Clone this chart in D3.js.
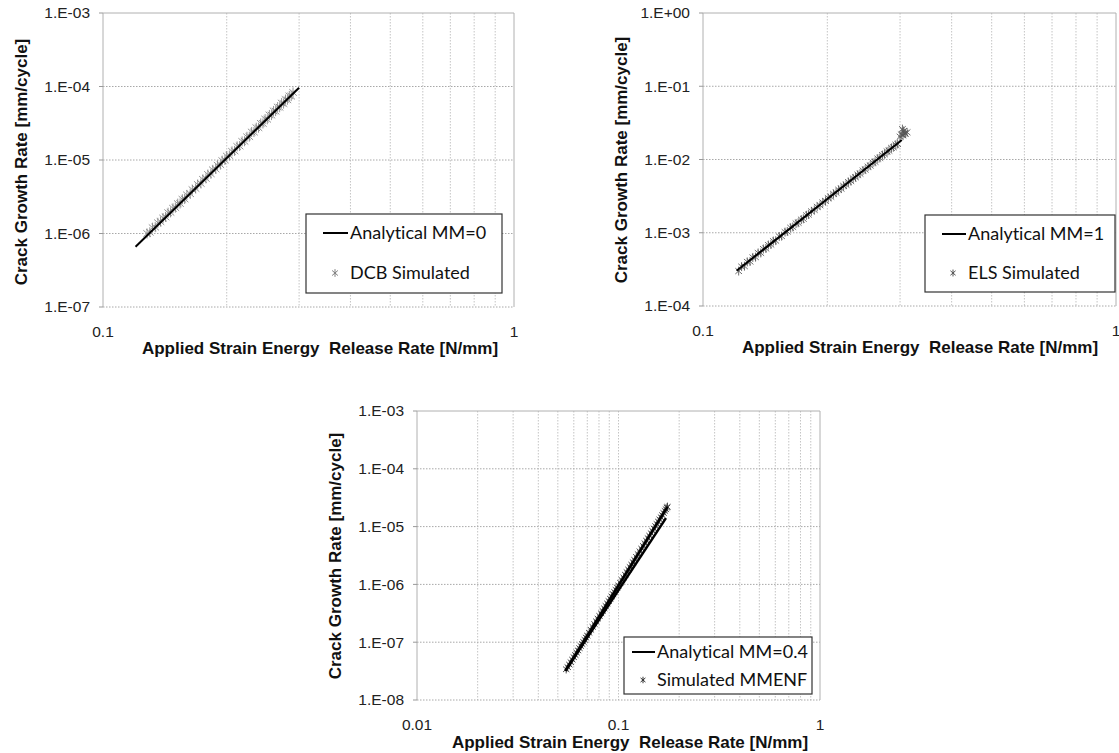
<!DOCTYPE html>
<html>
<head>
<meta charset="utf-8">
<script src="https://cdn.jsdelivr.net/npm/d3@7"></script>
<style>
  body { margin: 0; background: #fff; }
  svg text { font-family: "Liberation Sans", Arial, sans-serif; }
  .legend text { font-family: Lato, "Open Sans", sans-serif; font-variant-ligatures: none; }
</style>
</head>
<body>
<div id="chart"></div>
<script>
// ---- data: DCB (MM=0) ----
const dcbLineG    = [0.12, 0.30];
const dcbLineRate = [6.6e-7, 9.6e-5];
const dcbSimG = [0.128, 0.130, 0.132, 0.134, 0.136, 0.138, 0.140, 0.142, 0.144, 0.146, 0.148, 0.150,
  0.152, 0.154, 0.156, 0.158, 0.160, 0.163, 0.165, 0.168, 0.170, 0.173, 0.175, 0.178, 0.180, 0.183,
  0.185, 0.188, 0.190, 0.193, 0.195, 0.198, 0.200, 0.203, 0.206, 0.209, 0.212, 0.215, 0.218, 0.221,
  0.224, 0.227, 0.230, 0.233, 0.236, 0.239, 0.242, 0.245, 0.248, 0.251, 0.254, 0.257, 0.260, 0.263,
  0.266, 0.269, 0.272, 0.275, 0.278, 0.281, 0.284, 0.287, 0.290];
const dcbSimRate = [1.00e-6, 1.04e-6, 1.20e-6, 1.22e-6, 1.40e-6, 1.45e-6, 1.62e-6, 1.68e-6, 1.92e-6, 1.94e-6, 2.20e-6, 2.25e-6,
  2.55e-6, 2.56e-6, 2.92e-6, 2.95e-6, 3.35e-6, 3.48e-6, 3.95e-6, 4.10e-6, 4.65e-6, 4.80e-6, 5.45e-6, 5.62e-6, 6.35e-6, 6.50e-6,
  7.35e-6, 7.55e-6, 8.50e-6, 8.65e-6, 9.80e-6, 1.00e-5, 1.13e-5, 1.15e-5, 1.31e-5, 1.33e-5, 1.53e-5, 1.55e-5, 1.79e-5, 1.80e-5,
  2.07e-5, 2.08e-5, 2.40e-5, 2.40e-5, 2.75e-5, 2.75e-5, 3.15e-5, 3.14e-5, 3.60e-5, 3.58e-5, 4.10e-5, 4.08e-5, 4.65e-5, 4.62e-5,
  5.25e-5, 5.22e-5, 5.95e-5, 5.85e-5, 6.65e-5, 6.60e-5, 7.45e-5, 7.40e-5, 8.30e-5];

// ---- data: ELS (MM=1) ----
const elsLineG    = [0.1206, 0.303];
const elsLineRate = [3.03e-4, 1.85e-2];
const elsSimG = [0.122, 0.124, 0.126, 0.128, 0.130, 0.132, 0.134, 0.136, 0.138, 0.140, 0.142, 0.144,
  0.146, 0.148, 0.150, 0.153, 0.155, 0.158, 0.160, 0.163, 0.165, 0.168, 0.170, 0.173, 0.175, 0.178,
  0.180, 0.183, 0.186, 0.189, 0.192, 0.195, 0.198, 0.201, 0.204, 0.207, 0.210, 0.213, 0.216, 0.219,
  0.222, 0.225, 0.228, 0.231, 0.234, 0.237, 0.240, 0.244, 0.247, 0.251, 0.254, 0.258, 0.261, 0.265,
  0.268, 0.272, 0.275, 0.279, 0.282, 0.286, 0.289, 0.293, 0.296,
  0.300, 0.302, 0.304, 0.305, 0.306, 0.308, 0.309, 0.312];
const elsSimRate = [3.0e-4, 3.45e-4, 3.5e-4, 4.0e-4, 4.05e-4, 4.6e-4, 4.65e-4, 5.3e-4, 5.3e-4, 6.0e-4, 6.1e-4, 6.8e-4,
  6.9e-4, 7.7e-4, 7.8e-4, 8.9e-4, 9.0e-4, 1.02e-3, 1.04e-3, 1.17e-3, 1.20e-3, 1.34e-3, 1.37e-3, 1.51e-3, 1.55e-3, 1.73e-3,
  1.77e-3, 1.96e-3, 2.05e-3, 2.26e-3, 2.37e-3, 2.59e-3, 2.72e-3, 2.97e-3, 3.10e-3, 3.39e-3, 3.53e-3, 3.86e-3, 4.00e-3, 4.36e-3,
  4.52e-3, 4.92e-3, 5.08e-3, 5.52e-3, 5.72e-3, 6.20e-3, 6.40e-3, 7.06e-3, 7.28e-3, 7.98e-3, 8.25e-3, 9.04e-3, 9.30e-3, 1.03e-2,
  1.05e-2, 1.15e-2, 1.18e-2, 1.29e-2, 1.32e-2, 1.44e-2, 1.47e-2, 1.59e-2, 1.63e-2,
  2.05e-2, 2.20e-2, 2.60e-2, 2.15e-2, 2.45e-2, 2.30e-2, 2.25e-2, 2.35e-2];

// ---- data: MMENF (MM=0.4) ----
const mmfLineAG    = [0.0545, 0.175];
const mmfLineARate = [3.2e-8, 2.2e-5];
const mmfLineBG    = [0.0545, 0.172];
const mmfLineBRate = [3.2e-8, 1.4e-5];
const mmfSimG = [0.055, 0.056, 0.057, 0.058, 0.059, 0.060, 0.061, 0.062, 0.063, 0.064, 0.065, 0.066,
  0.067, 0.068, 0.069, 0.070, 0.0715, 0.073, 0.0745, 0.076, 0.0775, 0.079, 0.0805, 0.082, 0.0835, 0.085,
  0.0865, 0.088, 0.0895, 0.091, 0.0925, 0.094, 0.0955, 0.097, 0.0985, 0.100, 0.102, 0.104, 0.106, 0.108,
  0.110, 0.112, 0.114, 0.116, 0.118, 0.120, 0.1225, 0.125, 0.1275, 0.130, 0.1325, 0.135, 0.1375, 0.140,
  0.1425, 0.145, 0.1475, 0.150, 0.1525, 0.155, 0.1575, 0.160, 0.1625, 0.165, 0.1675, 0.170, 0.172, 0.174, 0.175];
const mmfSimRate = [3.4e-8, 3.7e-8, 4.1e-8, 4.5e-8, 5.0e-8, 5.5e-8, 6.0e-8, 6.6e-8, 7.2e-8, 7.9e-8, 8.6e-8, 9.3e-8,
  1.01e-7, 1.10e-7, 1.20e-7, 1.30e-7, 1.46e-7, 1.64e-7, 1.84e-7, 2.06e-7, 2.30e-7, 2.56e-7, 2.85e-7, 3.15e-7, 3.49e-7, 3.85e-7,
  4.25e-7, 4.68e-7, 5.15e-7, 5.65e-7, 6.20e-7, 6.78e-7, 7.40e-7, 8.07e-7, 8.80e-7, 9.57e-7, 1.07e-6, 1.19e-6, 1.32e-6, 1.47e-6,
  1.63e-6, 1.81e-6, 2.00e-6, 2.20e-6, 2.42e-6, 2.66e-6, 2.99e-6, 3.34e-6, 3.73e-6, 4.16e-6, 4.63e-6, 5.14e-6, 5.70e-6, 6.30e-6,
  6.96e-6, 7.67e-6, 8.44e-6, 9.27e-6, 1.02e-5, 1.11e-5, 1.22e-5, 1.33e-5, 1.45e-5, 1.58e-5, 1.72e-5, 1.87e-5, 2.00e-5, 2.13e-5, 2.2e-5];

// ---- tick labels ----
const dcbYTicks = [1e-7, 1e-6, 1e-5, 1e-4, 1e-3];
const dcbYLabels = ["1.E-07", "1.E-06", "1.E-05", "1.E-04", "1.E-03"];
const elsYTicks = [1e-4, 1e-3, 1e-2, 1e-1, 1];
const elsYLabels = ["1.E-04", "1.E-03", "1.E-02", "1.E-01", "1.E+00"];
const mmfYTicks = [1e-8, 1e-7, 1e-6, 1e-5, 1e-4, 1e-3];
const mmfYLabels = ["1.E-08", "1.E-07", "1.E-06", "1.E-05", "1.E-04", "1.E-03"];
const topXTicks = [0.1, 1];
const topXLabels = ["0.1", "1"];
const mmfXTicks = [0.01, 0.1, 1];
const mmfXLabels = ["0.01", "0.1", "1"];

const xTitle = "Applied Strain Energy  Release Rate [N/mm]";
const yTitle = "Crack Growth Rate [mm/cycle]";

const W = 1119, H = 753;

const svg = d3.select("#chart").append("svg")
    .attr("width", W)
    .attr("height", H);

// asterisk-like marker: vertical bar plus an x
const starSymbol = {
    draw(ctx, size) {
        const r = Math.sqrt(size) / 2;
        const dx = r * 0.75, dy = r * 0.65;
        ctx.moveTo(0, -r); ctx.lineTo(0, r);
        ctx.moveTo(-dx, -dy); ctx.lineTo(dx, dy);
        ctx.moveTo(-dx, dy); ctx.lineTo(dx, -dy);
    }
};

const panels = [
    {
        box: {left: 103, right: 514, top: 13, bottom: 307},
        xDomain: [0.1, 1], yDomain: [1e-7, 1e-3],
        xTicks: topXTicks, xLabels: topXLabels,
        yTicks: dcbYTicks, yLabels: dcbYLabels,
        lines: [[dcbLineG, dcbLineRate]],
        simG: dcbSimG, simRate: dcbSimRate,
        markerColor: "#808080", markerSize: 100, lineWidth: 2,
        xTitlePos: [320, 354], yTitlePos: [27, 162],
        legend: {x: 306, y: 214, w: 196, h: 79, lineY: 233, simY: 273, lx0: 323, lx1: 348, mx: 335, tx: 350,
                 names: ["Analytical MM=0", "DCB Simulated"]}
    },
    {
        box: {left: 703, right: 1116, top: 13, bottom: 306},
        xDomain: [0.1, 1], yDomain: [1e-4, 1],
        xTicks: topXTicks, xLabels: topXLabels,
        yTicks: elsYTicks, yLabels: elsYLabels,
        lines: [[elsLineG, elsLineRate]],
        simG: elsSimG, simRate: elsSimRate,
        markerColor: "#555", markerSize: 80, lineWidth: 2,
        xTitlePos: [920, 353], yTitlePos: [627, 160],
        legend: {x: 925, y: 215, w: 190, h: 77, lineY: 234, simY: 273, lx0: 942, lx1: 966, mx: 953, tx: 968,
                 names: ["Analytical MM=1", "ELS Simulated"]}
    },
    {
        box: {left: 417, right: 820, top: 411, bottom: 700},
        xDomain: [0.01, 1], yDomain: [1e-8, 1e-3],
        xTicks: mmfXTicks, xLabels: mmfXLabels,
        yTicks: mmfYTicks, yLabels: mmfYLabels,
        lines: [[mmfLineAG, mmfLineARate], [mmfLineBG, mmfLineBRate]],
        simG: mmfSimG, simRate: mmfSimRate,
        markerColor: "#333", markerSize: 70, lineWidth: 2.5,
        xTitlePos: [630, 748], yTitlePos: [341, 556],
        legend: {x: 624, y: 637, w: 188, h: 57, lineY: 652, simY: 680, lx0: 632, lx1: 655, mx: 643, tx: 657,
                 names: ["Analytical MM=0.4", "Simulated MMENF"]}
    }
];

panels.forEach(p => drawPanel(p));

function drawPanel(p) {
    const b = p.box;
    const x = d3.scaleLog().domain(p.xDomain).range([b.left, b.right]);
    const y = d3.scaleLog().domain(p.yDomain).range([b.bottom, b.top]);
    const g = svg.append("g");

    // minor vertical gridlines (2..9 of each decade) and decade lines
    const decades = d3.range(Math.round(Math.log10(p.xDomain[0])), Math.round(Math.log10(p.xDomain[1])));
    const xGrid = [];
    decades.forEach(e => d3.range(2, 10).forEach(k => xGrid.push(k * Math.pow(10, e))));
    p.xTicks.slice(1, -1).forEach(t => xGrid.push(t));

    g.selectAll("line.gx")
        .data(xGrid)
        .enter()
        .append("line")
        .attr("x1", d => x(d)).attr("x2", d => x(d))
        .attr("y1", b.top).attr("y2", b.bottom)
        .attr("stroke", "#c4c4c4")
        .attr("stroke-dasharray", "1.5,1.5");

    g.selectAll("line.gy")
        .data(p.yTicks.slice(0, -1))
        .enter()
        .append("line")
        .attr("x1", b.left).attr("x2", b.right)
        .attr("y1", d => y(d)).attr("y2", d => y(d))
        .attr("stroke", "#a8a8a8")
        .attr("stroke-dasharray", "1.5,1.5");

    // plot frame
    g.append("path")
        .attr("d", `M${b.left},${b.bottom}V${b.top}H${b.right}V${b.bottom}`)
        .attr("fill", "none")
        .attr("stroke", "#b0b0b0");

    // tick marks
    g.selectAll("line.ty")
        .data(p.yTicks)
        .enter()
        .append("line")
        .attr("x1", b.left - 4).attr("x2", b.left)
        .attr("y1", d => y(d)).attr("y2", d => y(d))
        .attr("stroke", "#999");

    // tick labels
    g.selectAll("text.yl")
        .data(p.yTicks)
        .enter()
        .append("text")
        .attr("x", b.left - 13)
        .attr("y", d => y(d))
        .attr("dy", "0.35em")
        .attr("text-anchor", "end")
        .attr("font-size", 15.5)
        .attr("fill", "#222")
        .text((d, i) => p.yLabels[i]);

    g.selectAll("text.xl")
        .data(p.xTicks)
        .enter()
        .append("text")
        .attr("x", d => x(d))
        .attr("y", b.bottom + 25)
        .attr("dy", "0.35em")
        .attr("text-anchor", "middle")
        .attr("font-size", 15.5)
        .attr("fill", "#222")
        .text((d, i) => p.xLabels[i]);

    // axis titles
    g.append("text")
        .attr("x", p.xTitlePos[0])
        .attr("y", p.xTitlePos[1])
        .attr("text-anchor", "middle")
        .attr("font-size", 17)
        .attr("font-weight", "bold")
        .attr("fill", "#111")
        .style("white-space", "pre")
        .text(xTitle);

    g.append("text")
        .attr("transform", `translate(${p.yTitlePos[0]},${p.yTitlePos[1]}) rotate(-90)`)
        .attr("text-anchor", "middle")
        .attr("font-size", 17)
        .attr("font-weight", "bold")
        .attr("fill", "#111")
        .text(yTitle);

    // simulated points
    const pts = p.simG.map((v, i) => [v, p.simRate[i]]);
    g.selectAll("path.sim")
        .data(pts)
        .enter()
        .append("path")
        .attr("transform", d => `translate(${x(d[0])},${y(d[1])})`)
        .attr("d", d3.symbol().type(starSymbol).size(p.markerSize))
        .attr("fill", "none")
        .attr("stroke", p.markerColor)
        .attr("stroke-opacity", 0.85)
        .attr("stroke-width", 1);

    // analytical lines on top of the markers
    const line = d3.line().x(d => x(d[0])).y(d => y(d[1]));
    p.lines.forEach(([gs, rs]) => {
        g.append("path")
            .datum(gs.map((v, i) => [v, rs[i]]))
            .attr("d", line)
            .attr("fill", "none")
            .attr("stroke", "#000")
            .attr("stroke-width", p.lineWidth);
    });

    // legend
    const L = p.legend;
    const lg = g.append("g").attr("class", "legend");
    lg.append("rect")
        .attr("x", L.x).attr("y", L.y)
        .attr("width", L.w).attr("height", L.h)
        .attr("fill", "#fff")
        .attr("stroke", "#333")
        .attr("stroke-width", 1.2);
    lg.append("line")
        .attr("x1", L.lx0).attr("x2", L.lx1)
        .attr("y1", L.lineY).attr("y2", L.lineY)
        .attr("stroke", "#000")
        .attr("stroke-width", 2);
    lg.append("path")
        .attr("transform", `translate(${L.mx},${L.simY})`)
        .attr("d", d3.symbol().type(starSymbol).size(p.markerSize * 0.6))
        .attr("fill", "none")
        .attr("stroke", p.markerColor);
    lg.selectAll("text")
        .data([L.lineY, L.simY])
        .enter()
        .append("text")
        .attr("x", L.tx)
        .attr("y", d => d)
        .attr("dy", "0.35em")
        .attr("font-size", 18)
        .attr("fill", "#111")
        .text((d, i) => L.names[i]);
}
</script>
</body>
</html>
